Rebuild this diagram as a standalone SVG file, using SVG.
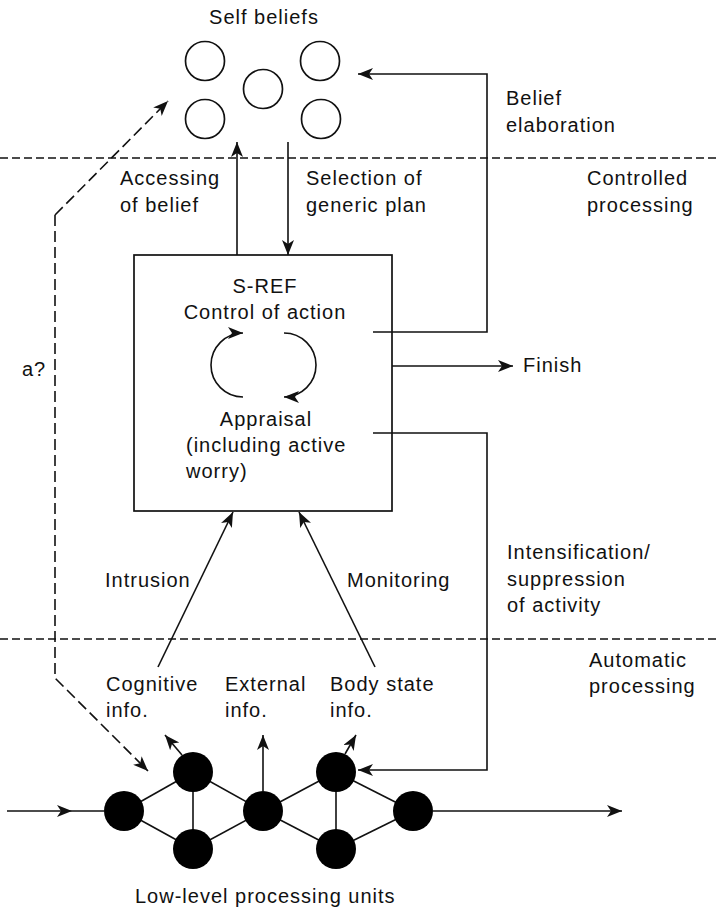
<svg xmlns="http://www.w3.org/2000/svg" width="716" height="910" viewBox="0 0 716 910">
  <style>
    text { font-family: "Liberation Sans", Arial, sans-serif; font-size: 20px; letter-spacing: 1px; fill: #111; }
    .mid { text-anchor: middle; }
    .line { fill: none; stroke: #111; stroke-width: 1.6; }
    .dash { fill: none; stroke: #111; stroke-width: 1.5; stroke-dasharray: 8 4; }
    .dashlong { fill: none; stroke: #111; stroke-width: 1.6; stroke-dasharray: 11 5; }
    .belief { fill: #fff; stroke: #111; stroke-width: 1.7; }
    .unit { fill: #000; }
    .box { fill: #fff; stroke: #111; stroke-width: 1.7; }
  </style>
  <defs>
    <marker id="arrow" markerUnits="userSpaceOnUse" markerWidth="17" markerHeight="14" refX="15" refY="6" orient="auto">
      <path d="M0,0 L15,6 L0,12 L4,6 z" fill="#111"/>
    </marker>
  </defs>

  <rect width="716" height="910" fill="#fff"/>

  <!-- level separators -->
  <g id="levels">
    <line class="dash" x1="0" y1="158" x2="716" y2="158"/>
    <line class="dash" x1="0" y1="639" x2="716" y2="639"/>
    <text x="587" y="185">Controlled</text>
    <text x="587" y="212">processing</text>
    <text x="589" y="667">Automatic</text>
    <text x="589" y="693">processing</text>
  </g>

  <!-- self beliefs -->
  <g id="self-beliefs">
    <text class="mid" x="264" y="24">Self beliefs</text>
    <circle class="belief" cx="205" cy="61" r="19.5"/>
    <circle class="belief" cx="320" cy="61" r="19.5"/>
    <circle class="belief" cx="263" cy="89" r="19.5"/>
    <circle class="belief" cx="205" cy="119" r="19.5"/>
    <circle class="belief" cx="321" cy="119" r="19.5"/>
  </g>

  <!-- S-REF executive -->
  <g id="sref">
    <rect class="box" x="134" y="255" width="258" height="256"/>
    <text class="mid" x="265" y="293">S-REF</text>
    <text class="mid" x="265" y="319">Control of action</text>
    <path class="line" d="M243,397 A32,32 0 0 1 243,333" marker-end="url(#arrow)"/>
    <path class="line" d="M284,333 A32,32 0 0 1 284,397" marker-end="url(#arrow)"/>
    <text class="mid" x="266" y="426">Appraisal</text>
    <text x="186" y="452">(including active</text>
    <text x="186" y="478">worry)</text>
  </g>

  <!-- low-level processing network -->
  <g id="units">
    <g class="line">
      <line x1="124" y1="811" x2="193" y2="772"/>
      <line x1="124" y1="811" x2="193" y2="849"/>
      <line x1="193" y1="772" x2="193" y2="849"/>
      <line x1="193" y1="772" x2="263" y2="811"/>
      <line x1="193" y1="849" x2="263" y2="811"/>
      <line x1="263" y1="811" x2="336" y2="772"/>
      <line x1="263" y1="811" x2="336" y2="849"/>
      <line x1="336" y1="772" x2="336" y2="849"/>
      <line x1="336" y1="772" x2="413" y2="811"/>
      <line x1="336" y1="849" x2="413" y2="811"/>
    </g>
    <circle class="unit" cx="124" cy="811" r="20"/>
    <circle class="unit" cx="193" cy="772" r="20"/>
    <circle class="unit" cx="193" cy="849" r="20"/>
    <circle class="unit" cx="263" cy="811" r="20"/>
    <circle class="unit" cx="336" cy="772" r="20"/>
    <circle class="unit" cx="336" cy="849" r="20"/>
    <circle class="unit" cx="413" cy="811" r="20"/>
    <text x="135" y="903">Low-level processing units</text>
  </g>

  <!-- information sources -->
  <g id="info">
    <text x="106" y="691">Cognitive</text>
    <text x="106" y="717">info.</text>
    <text x="225" y="691">External</text>
    <text x="225" y="717">info.</text>
    <text x="330" y="691">Body state</text>
    <text x="330" y="717">info.</text>
  </g>

  <g id="finish">
    <text x="523" y="372">Finish</text>
  </g>

  <!-- connectors -->
  <g id="connectors">
    <path class="line" d="M237,255 V142" marker-end="url(#arrow)"/>
    <path class="line" d="M288,142 V255" marker-end="url(#arrow)"/>
    <path class="line" d="M373,332 H487 V74 H358" marker-end="url(#arrow)"/>
    <path class="line" d="M392,366 H513" marker-end="url(#arrow)"/>
    <path class="line" d="M373,433 H487 V770 H358" marker-end="url(#arrow)"/>
    <path class="line" d="M158,667 L233,512" marker-end="url(#arrow)"/>
    <path class="line" d="M375,667 L299,512" marker-end="url(#arrow)"/>
    <path class="dashlong" d="M55,215 L168,101" marker-end="url(#arrow)"/>
    <path class="dashlong" d="M55,215 V678 L148,771" marker-end="url(#arrow)"/>
    <path class="line" d="M7,811 H72" marker-end="url(#arrow)"/>
    <line class="line" x1="72" y1="811" x2="105" y2="811"/>
    <path class="line" d="M433,811 H622" marker-end="url(#arrow)"/>
    <path class="line" d="M182,755 L165,735" marker-end="url(#arrow)"/>
    <path class="line" d="M263,791 V735" marker-end="url(#arrow)"/>
    <path class="line" d="M345,754 L356,735" marker-end="url(#arrow)"/>

    <text x="120" y="185">Accessing</text>
    <text x="120" y="212">of belief</text>
    <text x="306" y="185">Selection of</text>
    <text x="306" y="212">generic plan</text>
    <text x="506" y="105">Belief</text>
    <text x="506" y="132">elaboration</text>
    <text x="22" y="376">a?</text>
    <text x="105" y="587">Intrusion</text>
    <text x="347" y="587">Monitoring</text>
    <text x="507" y="559">Intensification/</text>
    <text x="507" y="586">suppression</text>
    <text x="507" y="612">of activity</text>
  </g>
</svg>
